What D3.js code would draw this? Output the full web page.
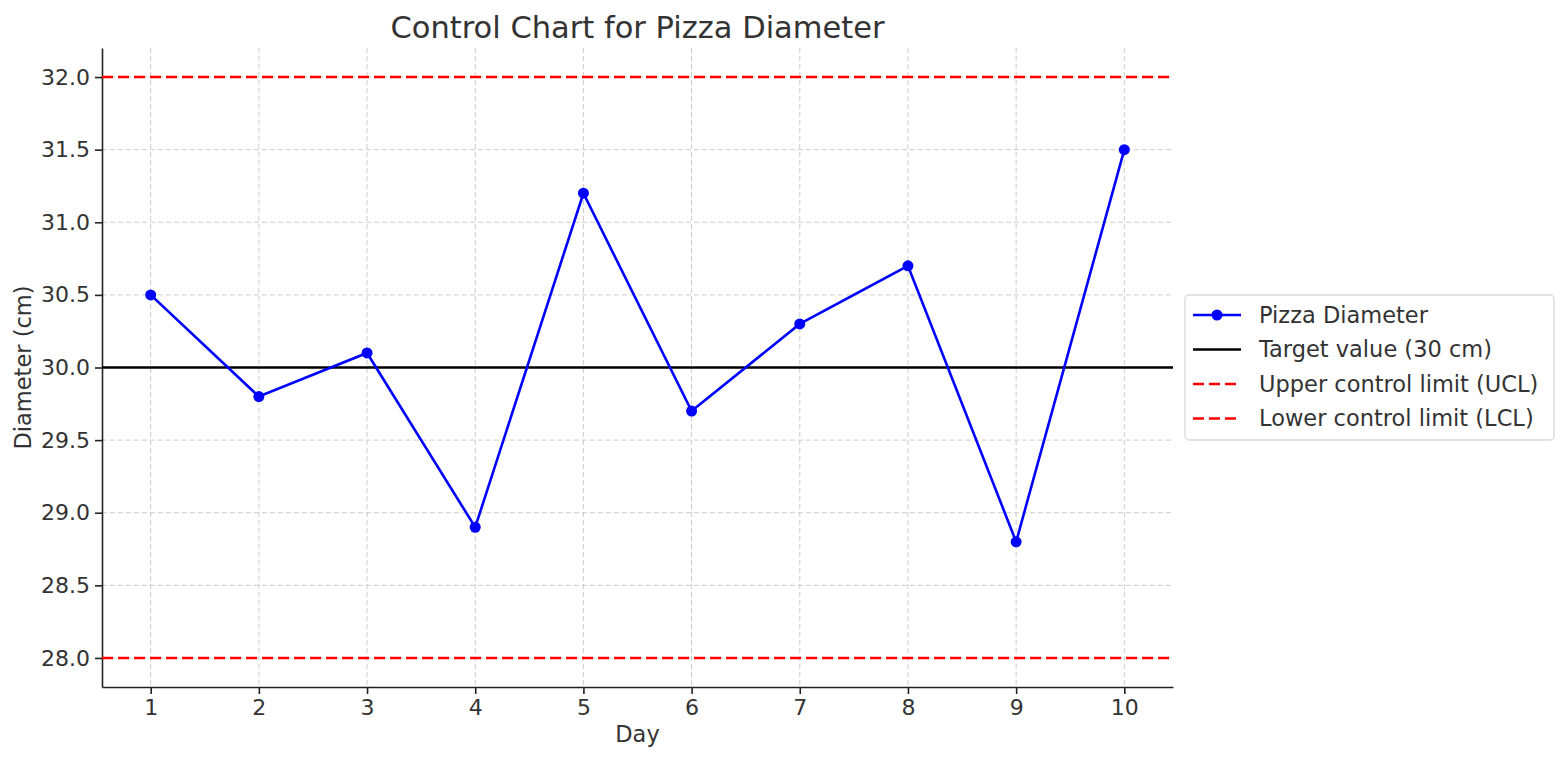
<!DOCTYPE html>
<html>
<head>
<meta charset="utf-8">
<script src="https://cdn.jsdelivr.net/npm/d3@7"></script>
<style>
  body { margin: 0; background: #fff; }
  text { font-family: "DejaVu Sans", sans-serif; fill: #333; }
</style>
</head>
<body>
<script>
// control chart data
var days = [1, 2, 3, 4, 5, 6, 7, 8, 9, 10];
var diameters = [30.5, 29.8, 30.1, 28.9, 31.2, 29.7, 30.3, 30.7, 28.8, 31.5];
var target = 30;
var ucl = 32;
var lcl = 28;
var yTicks = [28.0, 28.5, 29.0, 29.5, 30.0, 30.5, 31.0, 31.5, 32.0];
var legendLabels = ["Pizza Diameter", "Target value (30 cm)", "Upper control limit (UCL)", "Lower control limit (LCL)"];

var w = 1568;
var h = 761;
var margin = {top: 48, right: 395, bottom: 74, left: 102};

var svg = d3.select("body")
  .append("svg")
  .attr("width", w)
  .attr("height", h);

var x = d3.scaleLinear()
  .domain([0.55, 10.45])
  .range([margin.left, w - margin.right]);

var y = d3.scaleLinear()
  .domain([27.8, 32.2])
  .range([h - margin.bottom, margin.top]);

// grid
svg.append("g")
  .selectAll("line")
  .data(days)
  .enter()
  .append("line")
  .attr("x1", function(d) { return x(d); })
  .attr("x2", function(d) { return x(d); })
  .attr("y1", margin.top)
  .attr("y2", h - margin.bottom)
  .attr("stroke", "#cccccc")
  .attr("stroke-width", 1)
  .attr("stroke-dasharray", "5,3");

svg.append("g")
  .selectAll("line")
  .data(yTicks)
  .enter()
  .append("line")
  .attr("x1", margin.left)
  .attr("x2", w - margin.right)
  .attr("y1", function(d) { return y(d); })
  .attr("y2", function(d) { return y(d); })
  .attr("stroke", "#cccccc")
  .attr("stroke-width", 1)
  .attr("stroke-dasharray", "5,3");

// axes
var xAxis = svg.append("g")
  .attr("transform", "translate(0," + (h - margin.bottom) + ")")
  .call(d3.axisBottom(x).tickValues(days).tickSize(7).tickSizeOuter(0).tickPadding(5).tickFormat(d3.format("d")));

var yAxis = svg.append("g")
  .attr("transform", "translate(" + margin.left + ",0)")
  .call(d3.axisLeft(y).tickValues(yTicks).tickSize(7).tickSizeOuter(0).tickPadding(5).tickFormat(d3.format(".1f")));

[xAxis, yAxis].forEach(function(a) {
  a.select(".domain").attr("stroke", "#222").attr("stroke-width", 1.6);
  a.selectAll(".tick line").attr("stroke", "#222").attr("stroke-width", 1.6);
  a.selectAll(".tick text")
    .attr("font-size", "22px")
    .attr("fill", "#222")
    .style("font-family", "DejaVu Sans, sans-serif");
});

// reference lines
var refLines = [
  {v: target, color: "#000", dash: null},
  {v: ucl, color: "red", dash: "11,5"},
  {v: lcl, color: "red", dash: "11,5"}
];

svg.append("g")
  .selectAll("line")
  .data(refLines)
  .enter()
  .append("line")
  .attr("x1", margin.left)
  .attr("x2", w - margin.right)
  .attr("y1", function(d) { return y(d.v); })
  .attr("y2", function(d) { return y(d.v); })
  .attr("stroke", function(d) { return d.color; })
  .attr("stroke-width", 2.6)
  .attr("stroke-dasharray", function(d) { return d.dash; });

// data line
var points = days.map(function(d, i) { return {day: d, value: diameters[i]}; });

var line = d3.line()
  .x(function(d) { return x(d.day); })
  .y(function(d) { return y(d.value); });

svg.append("path")
  .datum(points)
  .attr("d", line)
  .attr("fill", "none")
  .attr("stroke", "blue")
  .attr("stroke-width", 2.6);

svg.selectAll("circle.pt")
  .data(points)
  .enter()
  .append("circle")
  .attr("class", "pt")
  .attr("cx", function(d) { return x(d.day); })
  .attr("cy", function(d) { return y(d.value); })
  .attr("r", 5.5)
  .attr("fill", "blue");

// labels
svg.append("text")
  .attr("x", (margin.left + w - margin.right) / 2)
  .attr("y", 38)
  .attr("text-anchor", "middle")
  .attr("font-size", "30.5px")
  .text("Control Chart for Pizza Diameter");

svg.append("text")
  .attr("x", (margin.left + w - margin.right) / 2)
  .attr("y", 742)
  .attr("text-anchor", "middle")
  .attr("font-size", "22.5px")
  .text("Day");

svg.append("text")
  .attr("transform", "translate(31," + ((margin.top + h - margin.bottom) / 2) + ") rotate(-90)")
  .attr("text-anchor", "middle")
  .attr("font-size", "22.5px")
  .text("Diameter (cm)");

// legend
var legend = svg.append("g").attr("transform", "translate(1185,295)");

legend.append("rect")
  .attr("width", 369)
  .attr("height", 145)
  .attr("rx", 4)
  .attr("fill", "#fff")
  .attr("stroke", "#d9d9d9")
  .attr("stroke-width", 1.3);

var legendStyles = [
  {color: "blue", dash: null, marker: true},
  {color: "#000", dash: null, marker: false},
  {color: "red", dash: "11,5", marker: false},
  {color: "red", dash: "11,5", marker: false}
];

var items = legend.selectAll("g.item")
  .data(legendLabels)
  .enter()
  .append("g")
  .attr("class", "item")
  .attr("transform", function(d, i) { return "translate(0," + (20 + i * 34.5) + ")"; });

items.append("line")
  .attr("x1", 8)
  .attr("x2", 56)
  .attr("stroke", function(d, i) { return legendStyles[i].color; })
  .attr("stroke-width", 2.6)
  .attr("stroke-dasharray", function(d, i) { return legendStyles[i].dash; });

items.filter(function(d, i) { return legendStyles[i].marker; })
  .append("circle")
  .attr("cx", 32)
  .attr("r", 5.5)
  .attr("fill", "blue");

items.append("text")
  .attr("x", 74)
  .attr("dy", "0.35em")
  .attr("font-size", "22.5px")
  .text(function(d) { return d; });
</script>
</body>
</html>
